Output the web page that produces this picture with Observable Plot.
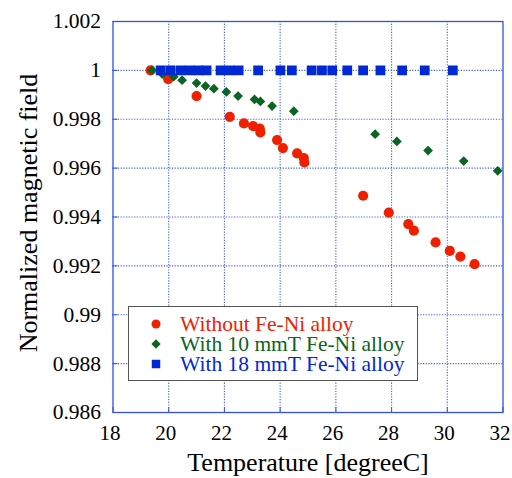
<!DOCTYPE html>
<html>
<head>
<meta charset="utf-8">
<script src="https://cdn.jsdelivr.net/npm/d3@7"></script>
<script src="https://cdn.jsdelivr.net/npm/@observablehq/plot@0.6"></script>
<style>
  html, body { margin: 0; padding: 0; background: #fff; }
  #wrap { position: relative; width: 512px; height: 478px; }
  #legend {
    position: absolute; left: 128px; top: 306px; width: 288px; height: 73px;
    border: 1.5px solid #555; background: #fff;
    font-family: "Liberation Serif", "Times New Roman", serif; font-size: 21.5px;
  }
  .row { position: absolute; left: 0; height: 20px; line-height: 20px; white-space: nowrap; }
  .row svg { position: absolute; left: 17px; top: 0; }
  .row span { position: absolute; left: 51px; top: 0; }
</style>
</head>
<body>
<div id="wrap">
  <div id="chart"></div>
  <div id="legend"></div>
</div>
<script>
// Temperature sweeps of the normalized field, three shielding configurations
const seriesNames = ["Without Fe-Ni alloy", "With 10 mmT Fe-Ni alloy", "With 18 mmT Fe-Ni alloy"];
const seriesColors = ["#ee2000", "#0b6422", "#0028d4"];

const tempNone = [19.35, 19.98, 21.0, 22.19, 22.7, 23.03, 23.27, 23.29, 23.89, 24.1, 24.61, 24.85, 24.87, 26.98, 27.9, 28.6, 28.8, 29.58, 30.09, 30.47, 30.98];
const fieldNone = [1.0, 0.99964, 0.99895, 0.9981, 0.99783, 0.99772, 0.99762, 0.99746, 0.99715, 0.99682, 0.9966, 0.99641, 0.99623, 0.99487, 0.99418, 0.99371, 0.99344, 0.99296, 0.99261, 0.99238, 0.99207];

const temp10 = [19.4, 19.77, 20.18, 20.48, 21.0, 21.32, 21.62, 22.07, 22.49, 23.08, 23.29, 23.71, 24.49, 27.41, 28.19, 29.31, 30.59, 31.81];
const field10 = [1.0, 0.99985, 0.99974, 0.9996, 0.99948, 0.99936, 0.99925, 0.99912, 0.99895, 0.99881, 0.99873, 0.99854, 0.99833, 0.99739, 0.99709, 0.99672, 0.99629, 0.99589];

const temp18 = [19.71, 20.06, 20.42, 20.75, 21.07, 21.36, 21.86, 22.19, 22.51, 23.21, 24.01, 24.42, 25.13, 25.5, 25.87, 26.41, 26.98, 27.6, 28.38, 29.19, 30.2];
const field18 = [1.0, 1.0, 1.0, 1.0, 1.0, 1.0, 1.0, 1.0, 1.0, 1.0, 1.0, 1.0, 1.0, 1.0, 1.0, 1.0, 1.0, 1.0, 1.0, 1.0, 1.0];

const xTicks = [18, 20, 22, 24, 26, 28, 30, 32];
const yTicks = [0.986, 0.988, 0.99, 0.992, 0.994, 0.996, 0.998, 1.0, 1.002];
const xTitle = "Temperature [degreeC]";
const yTitle = "Normalized magnetic field";

const zip = (xs, ys) => xs.map((x, i) => ({x, y: ys[i]}));
const dataNone = zip(tempNone, fieldNone);
const data10 = zip(temp10, field10);
const data18 = zip(temp18, field18);

const serif = "'Liberation Serif', 'Times New Roman', serif";
const axisBlue = "#3052e6";
const gridBlue = "#2c4fe8";

const chart = Plot.plot({
  width: 512,
  height: 478,
  marginLeft: 112.5,
  marginRight: 9.5,
  marginTop: 21,
  marginBottom: 66,
  style: {fontFamily: serif, background: "#fff", overflow: "visible"},
  x: {domain: [18, 32], ticks: xTicks},
  y: {domain: [0.986, 1.002], ticks: yTicks},
  marks: [
    Plot.gridX(xTicks.slice(1, -1), {stroke: gridBlue, strokeOpacity: 0.9, strokeDasharray: "1.2,1.5", strokeWidth: 1.1}),
    Plot.gridY(yTicks.slice(1, -1), {stroke: gridBlue, strokeOpacity: 0.9, strokeDasharray: "1.2,1.5", strokeWidth: 1.1}),
    // inward tick marks on the frame
    Plot.axisX(xTicks, {anchor: "bottom", tickSize: -5, text: null, stroke: axisBlue, label: null}),
    Plot.axisY(yTicks, {anchor: "left", tickSize: -5, text: null, stroke: axisBlue, label: null}),
    // tick labels
    Plot.axisX(xTicks, {anchor: "bottom", tickSize: 0, tickPadding: 13, dx: -3, fontSize: 21, fill: "#000", label: null, tickFormat: d => String(d)}),
    Plot.axisY(yTicks, {anchor: "left", tickSize: 0, tickPadding: 12, fontSize: 21.5, fill: "#000", label: null, tickFormat: d => String(+d.toFixed(3))}),
    Plot.frame({stroke: axisBlue, strokeWidth: 1.3}),
    Plot.dot(dataNone, {x: "x", y: "y", r: 5.1, symbol: "circle", fill: seriesColors[0]}),
    Plot.dot(data10, {x: "x", y: "y", r: 4.4, symbol: "diamond2", fill: seriesColors[1]}),
    Plot.dot(data18, {x: "x", y: "y", r: 5.5, symbol: "square", fill: seriesColors[2]}),
    Plot.text([xTitle], {text: d => d, frameAnchor: "bottom", dy: 58, fontSize: 26, fill: "#000"}),
    Plot.text([yTitle], {text: d => d, frameAnchor: "left", textAnchor: "middle", lineAnchor: "middle", dx: -84, dy: -4, rotate: -90, fontSize: 26, fill: "#000"})
  ]
});
document.getElementById("chart").appendChild(chart);

// Legend box
const legend = d3.select("#legend");
const legendSymbols = [d3.symbolCircle, d3.symbolDiamond2, d3.symbolSquare];
const legendSizes = [64, 55, 72];
seriesNames.forEach((name, i) => {
  const row = legend.append("div").attr("class", "row").style("top", `${7 + i * 20}px`);
  const svg = row.append("svg").attr("width", 20).attr("height", 20);
  svg.append("path")
    .attr("transform", "translate(10,10)")
    .attr("d", d3.symbol(legendSymbols[i], legendSizes[i])())
    .attr("fill", seriesColors[i]);
  row.append("span").text(name).style("color", seriesColors[i]);
});
</script>
</body>
</html>
